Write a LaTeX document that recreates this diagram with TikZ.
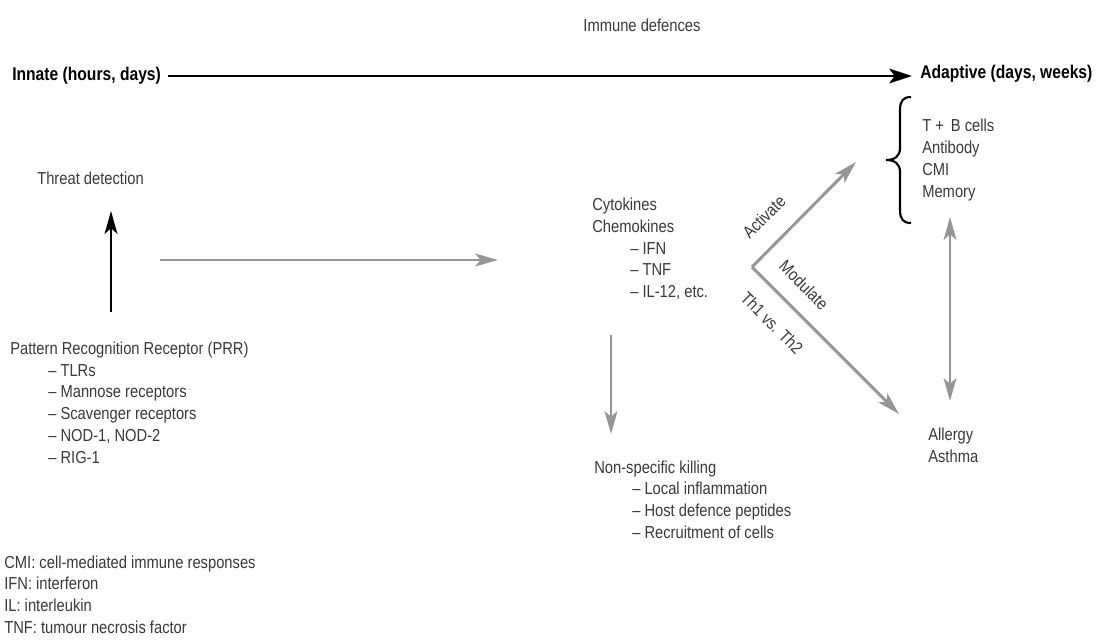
\documentclass[tikz,border=0pt]{standalone}
\usepackage{fontspec}
\setmainfont[FakeStretch=0.85]{Liberation Sans}
\usetikzlibrary{arrows.meta}
\definecolor{txt}{RGB}{58,58,58}
\definecolor{arr}{RGB}{150,150,150}
\newcommand{\ind}{\hspace*{28.5pt}}
\begin{document}
\begin{tikzpicture}[x=0.75pt,y=-0.75pt,
  lbl/.style={inner sep=0pt, text=txt, font=\fontsize{13}{16.3}\selectfont, align=left, anchor=west},
  hdr/.style={inner sep=0pt, font=\bfseries\fontsize{13.8}{15}\selectfont, anchor=west},
  tip/.style={-{Stealth[length=17pt,width=9.5pt,inset=4pt]}},
  garrow/.style={draw=arr, line width=2.2pt, tip},
  barrow/.style={draw=black, line width=2.2pt, tip},
  rlbl/.style={inner sep=0pt, text=txt, font=\fontsize{13}{15}\selectfont}]
\path[use as bounding box, fill=white] (0,0) rectangle (1098,639);

% title
\node[rlbl] (title) at (642,25) {Immune defences};

% timeline
\node[hdr] (innate) at (12,76) {Innate (hours, days)};
\node[hdr] (adaptive) at (920,74) {Adaptive (days, weeks)};
\coordinate (tl0) at (168,76);
\coordinate (tl1) at (912,76);
\draw[barrow, -{Stealth[length=17pt,width=11pt,inset=4pt]}] (tl0) -- (tl1);

% left side
\node[lbl] (threat) at (37,178) {Threat detection};
\node[lbl] (prr) at (10,402.5) {Pattern Recognition Receptor (PRR)\\
\ind -- TLRs\\
\ind -- Mannose receptors\\
\ind -- Scavenger receptors\\
\ind -- NOD-1, NOD-2\\
\ind -- RIG-1};
\coordinate (up0) at (111,312);
\coordinate (up1) at (111,211);
\draw[barrow] (up0) -- (up1);

\coordinate (h0) at (160,260);
\coordinate (h1) at (498,260);
\draw[garrow] (h0) -- (h1);

% cytokines
\node[lbl] (cyto) at (592,249) {Cytokines\\
Chemokines\\
\ind -- IFN\\
\ind -- TNF\\
\ind -- IL-12, etc.};

\coordinate (d0) at (611,335);
\coordinate (d1) at (611,434);
\draw[garrow] (d0) -- (d1);

\node[lbl] (kill) at (594,499.5) {Non-specific killing\\
\ind -- Local inflammation\\
\ind -- Host defence peptides\\
\ind -- Recruitment of cells};

% V arrows
\coordinate (v) at (752,267);
\coordinate (vu) at (856,162);
\coordinate (vd) at (899,414);
\draw[garrow] (v) -- (vu);
\draw[garrow] (v) -- (vd);
\node[rlbl, rotate=45] (act) at (764,217) {Activate};
\node[rlbl, rotate=-45] (mod) at (804,285) {Modulate};
\node[rlbl, rotate=-45] (th) at (772,323) {Th1 vs. Th2};

% adaptive list with brace
\node[lbl] (tb) at (922,160) {T +\, B cells\\
Antibody\\
CMI\\
Memory};
\draw[line width=1.6pt, black]
  (911,97) .. controls (903,97) and (900,101) .. (900,110)
  -- (900,148) .. controls (900,156) and (895,160) .. (886,160)
  .. controls (895,160) and (900,164) .. (900,172)
  -- (900,210) .. controls (900,219) and (903,223) .. (911,223);

\node[lbl] (allergy) at (928,445) {Allergy\\Asthma};
\coordinate (dd0) at (950,217);
\coordinate (dd1) at (950,401);
\draw[draw=arr, line width=2.2pt, {Stealth[length=17pt,width=9.5pt,inset=4pt]}-{Stealth[length=17pt,width=9.5pt,inset=4pt]}] (dd0) -- (dd1);

% legend
\node[lbl] (legend) at (4,594.5) {CMI: cell-mediated immune responses\\
IFN: interferon\\
IL: interleukin\\
TNF: tumour necrosis factor};
\end{tikzpicture}
\end{document}
